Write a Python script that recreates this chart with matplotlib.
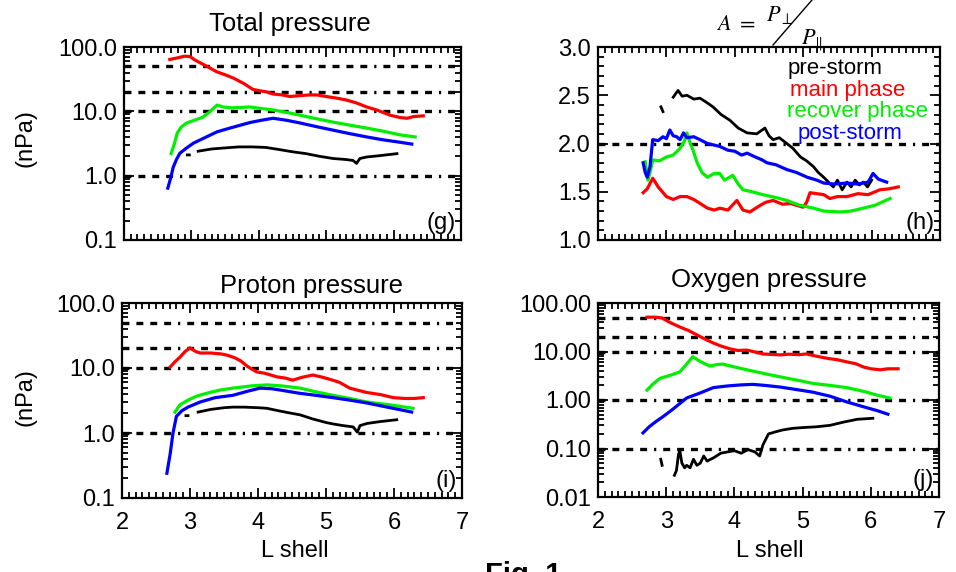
import numpy as np
import matplotlib
matplotlib.use("Agg")
import matplotlib.pyplot as plt
from matplotlib.ticker import MultipleLocator, LogLocator, FixedLocator, FixedFormatter, NullFormatter
from matplotlib.lines import Line2D

nan = np.nan

# ---------------- data ----------------
# (g) Total pressure (nPa)
g_pre_L  = [2.94, 2.97, nan, 3.1, 3.3, 3.5, 3.7, 3.9, 4.1, 4.3, 4.5, 4.7, 4.9, 5.1, 5.3, 5.4, 5.45, 5.5, 5.6, 5.8, 6.05]
g_pre    = [2.1, 2.1, nan, 2.4, 2.6, 2.7, 2.8, 2.8, 2.75, 2.55, 2.35, 2.2, 2.0, 1.85, 1.78, 1.72, 1.55, 1.85, 1.95, 2.05, 2.2]
g_main_L = [2.68, 2.8, 2.9, 2.98, 3.05, 3.2, 3.38, 3.5, 3.62, 3.78, 3.91, 4.0, 4.12, 4.21, 4.35, 4.46, 4.6, 4.75, 4.86, 5.0, 5.16, 5.3, 5.45, 5.6, 5.75, 5.95, 6.1, 6.2, 6.3, 6.44]
g_main   = [64, 68, 72, 71, 63, 52, 41, 37, 33, 27, 22, 21, 20, 18.6, 18, 17, 17.5, 18, 18, 17, 16, 15, 13.5, 11.7, 10.5, 8.7, 8.0, 7.8, 8.3, 8.5]
g_rec_L  = [2.70, 2.75, 2.79, 2.85, 2.93, 3.05, 3.17, 3.28, 3.38, 3.47, 3.6, 3.87, 4.0, 4.21, 4.4, 4.61, 4.85, 5.1, 5.35, 5.6, 5.85, 6.1, 6.32]
g_rec    = [2.2, 3.2, 4.6, 5.7, 6.6, 7.3, 8.1, 10.0, 12.5, 11.7, 11.3, 11.7, 11.2, 10.5, 9.7, 8.7, 7.7, 6.8, 6.1, 5.5, 4.9, 4.3, 4.0]
g_post_L = [2.65, 2.69, 2.73, 2.78, 2.83, 2.93, 3.03, 3.2, 3.38, 3.6, 3.87, 4.05, 4.21, 4.4, 4.61, 4.85, 5.1, 5.35, 5.6, 5.85, 6.1, 6.27]
g_post   = [0.64, 0.9, 1.35, 1.8, 2.24, 2.7, 3.2, 3.9, 4.8, 5.6, 6.7, 7.3, 7.8, 7.3, 6.6, 5.8, 5.1, 4.5, 4.0, 3.6, 3.3, 3.1]

# (h) anisotropy A = P_perp / P_par
h_pre_L  = [2.92, 2.95, nan, 3.1, 3.17, 3.23, 3.3, 3.4, 3.49, 3.6, 3.68, 3.8, 3.93, 4.05, 4.18, 4.32, 4.44, 4.5, 4.56, 4.65, 4.76, 4.85, 4.96, 5.05, 5.15, 5.22, 5.3, 5.37, 5.44, 5.5, 5.57, 5.64, 5.7, 5.76, 5.82, 5.88, 5.94, 6.0]
h_pre    = [2.38, 2.33, nan, 2.48, 2.55, 2.49, 2.50, 2.46, 2.47, 2.42, 2.38, 2.30, 2.24, 2.16, 2.11, 2.10, 2.16, 2.08, 2.04, 2.06, 2.0, 1.95, 1.86, 1.82, 1.76, 1.70, 1.65, 1.60, 1.55, 1.62, 1.52, 1.60, 1.55, 1.62, 1.57, 1.60, 1.55, 1.62]
h_main_L = [2.66, 2.72, 2.8, 2.88, 3.0, 3.1, 3.2, 3.3, 3.4, 3.49, 3.6, 3.7, 3.78, 3.9, 4.03, 4.12, 4.22, 4.35, 4.45, 4.56, 4.7, 4.81, 4.9, 5.0, 5.05, 5.1, 5.2, 5.3, 5.39, 5.5, 5.64, 5.8, 5.95, 6.12, 6.25, 6.39]
h_main   = [1.49, 1.53, 1.64, 1.55, 1.45, 1.42, 1.45, 1.45, 1.42, 1.38, 1.33, 1.31, 1.33, 1.31, 1.41, 1.31, 1.29, 1.35, 1.39, 1.41, 1.37, 1.38, 1.36, 1.34, 1.39, 1.49, 1.48, 1.47, 1.43, 1.45, 1.45, 1.48, 1.47, 1.52, 1.53, 1.55]
h_rec_L  = [2.69, 2.73, 2.76, 2.8, 2.9, 3.0, 3.1, 3.2, 3.26, 3.3, 3.35, 3.39, 3.45, 3.52, 3.6, 3.7, 3.78, 3.85, 3.97, 4.05, 4.12, 4.25, 4.41, 4.6, 4.76, 4.95, 5.15, 5.3, 5.54, 5.7, 5.88, 6.05, 6.27]
h_rec    = [1.81, 1.62, 1.70, 1.83, 1.82, 1.86, 1.88, 1.95, 2.02, 2.11, 2.0, 1.93, 1.80, 1.70, 1.65, 1.69, 1.69, 1.62, 1.67, 1.58, 1.52, 1.50, 1.47, 1.44, 1.41, 1.36, 1.33, 1.30, 1.29, 1.30, 1.33, 1.36, 1.43]
h_post_L = [2.66, 2.69, 2.72, 2.76, 2.8, 2.88, 2.95, 3.0, 3.05, 3.1, 3.15, 3.2, 3.25, 3.3, 3.4, 3.49, 3.6, 3.78, 3.9, 4.0, 4.1, 4.18, 4.3, 4.4, 4.47, 4.6, 4.76, 4.9, 5.06, 5.2, 5.3, 5.45, 5.64, 5.8, 5.95, 6.02, 6.1, 6.22]
h_post   = [1.80, 1.70, 1.65, 1.76, 2.04, 2.03, 2.07, 2.05, 2.14, 2.08, 2.07, 2.04, 2.11, 2.06, 2.07, 2.04, 2.0, 1.97, 1.93, 1.92, 1.88, 1.90, 1.86, 1.83, 1.80, 1.78, 1.73, 1.70, 1.65, 1.62, 1.59, 1.58, 1.59, 1.58, 1.60, 1.69, 1.63, 1.60]

# (i) Proton pressure (nPa)
i_pre_L  = [2.94, 2.97, nan, 3.12, 3.3, 3.5, 3.63, 3.8, 4.0, 4.13, 4.3, 4.45, 4.62, 4.8, 5.0, 5.1, 5.25, 5.4, 5.46, 5.5, 5.6, 5.8, 6.04]
i_pre    = [1.85, 1.85, nan, 2.1, 2.3, 2.45, 2.5, 2.5, 2.45, 2.4, 2.2, 2.05, 1.9, 1.65, 1.45, 1.38, 1.3, 1.24, 1.03, 1.3, 1.4, 1.5, 1.6]
i_main_L = [2.71, 2.78, 2.85, 2.93, 3.0, 3.08, 3.15, 3.3, 3.45, 3.54, 3.65, 3.74, 3.85, 3.98, 4.1, 4.28, 4.4, 4.51, 4.65, 4.81, 4.95, 5.1, 5.2, 5.35, 5.45, 5.6, 5.8, 5.99, 6.15, 6.3, 6.43]
i_main   = [10.4, 12.5, 14.6, 18, 20.4, 18, 17, 17, 16.5, 15.8, 14.5, 13, 10.5, 8.7, 8.3, 7.3, 7.0, 6.5, 7.2, 7.8, 7.2, 6.5, 6.0, 4.9, 4.6, 4.2, 3.9, 3.5, 3.4, 3.4, 3.5]
i_rec_L  = [2.78, 2.85, 2.97, 3.1, 3.25, 3.45, 3.63, 3.9, 4.13, 4.35, 4.62, 4.85, 5.1, 5.35, 5.6, 5.95, 6.28]
i_rec    = [2.1, 2.7, 3.2, 3.7, 4.1, 4.6, 4.9, 5.3, 5.5, 5.3, 4.9, 4.3, 3.8, 3.4, 3.0, 2.7, 2.4]
i_post_L = [2.66, 2.71, 2.75, 2.8, 2.88, 2.97, 3.15, 3.37, 3.63, 3.85, 4.03, 4.2, 4.37, 4.6, 4.85, 5.1, 5.35, 5.6, 5.9, 6.26]
i_post   = [0.24, 0.49, 1.0, 1.8, 2.2, 2.5, 3.0, 3.5, 3.8, 4.4, 4.9, 4.8, 4.5, 4.1, 3.8, 3.5, 3.2, 2.9, 2.5, 2.1]

# (j) Oxygen pressure (nPa)
j_pre_L  = [2.92, 2.94, nan, 3.12, 3.15, 3.18, 3.2, 3.23, 3.27, 3.3, 3.35, 3.4, 3.45, 3.5, 3.55, 3.6, 3.7, 3.8, 3.9, 4.0, 4.1, 4.2, 4.3, 4.37, 4.42, 4.5, 4.6, 4.7, 4.85, 5.0, 5.2, 5.4, 5.6, 5.8, 6.03]
j_pre    = [0.06, 0.045, nan, 0.028, 0.035, 0.075, 0.09, 0.05, 0.04, 0.045, 0.04, 0.06, 0.045, 0.05, 0.07, 0.055, 0.065, 0.08, 0.085, 0.09, 0.08, 0.095, 0.085, 0.07, 0.12, 0.2, 0.22, 0.24, 0.26, 0.27, 0.28, 0.3, 0.35, 0.4, 0.42]
j_main_L = [2.72, 2.85, 2.94, 3.05, 3.2, 3.33, 3.45, 3.57, 3.69, 3.8, 3.94, 4.05, 4.18, 4.3, 4.42, 4.55, 4.67, 4.8, 4.95, 5.06, 5.2, 5.3, 5.4, 5.5, 5.65, 5.78, 5.89, 6.0, 6.14, 6.25, 6.4]
j_main   = [51, 51, 49, 40, 32, 27, 22, 18, 15, 13, 11.3, 10.5, 10.7, 9.8, 8.9, 8.7, 8.5, 8.8, 8.6, 8.9, 8.0, 7.5, 7.1, 6.8, 6.1, 5.6, 4.8, 4.4, 4.2, 4.4, 4.4]
j_rec_L  = [2.72, 2.8, 2.91, 3.05, 3.2, 3.3, 3.39, 3.5, 3.64, 3.75, 3.83, 4.0, 4.18, 4.4, 4.67, 4.9, 5.15, 5.4, 5.65, 5.9, 6.1, 6.28]
j_rec    = [1.6, 2.1, 2.8, 3.2, 3.8, 5.5, 7.8, 6.2, 5.0, 5.4, 5.5, 4.8, 4.2, 3.6, 3.0, 2.6, 2.2, 2.0, 1.8, 1.5, 1.25, 1.1]
j_post_L = [2.66, 2.75, 2.85, 2.95, 3.1, 3.3, 3.5, 3.69, 3.9, 4.1, 4.27, 4.45, 4.67, 4.9, 5.15, 5.4, 5.65, 5.9, 6.1, 6.25]
j_post   = [0.21, 0.28, 0.36, 0.45, 0.65, 1.1, 1.4, 1.8, 1.95, 2.05, 2.1, 2.0, 1.85, 1.65, 1.45, 1.2, 0.91, 0.72, 0.6, 0.51]

# reference lines and tick labels
press_ref = [50, 20, 10, 1]
oxy_ref = [50, 20, 10, 1, 0.1]
aniso_ref = [2.0]
press_ticks = [0.1, 1, 10, 100]
press_labels = ["0.1", "1.0", "10.0", "100.0"]
oxy_ticks = [0.01, 0.1, 1, 10, 100]
oxy_labels = ["0.01", "0.10", "1.00", "10.00", "100.00"]
aniso_ticks = [1.0, 1.5, 2.0, 2.5, 3.0]
aniso_labels = ["1.0", "1.5", "2.0", "2.5", "3.0"]
x_ticks = [2, 3, 4, 5, 6, 7]
phase_names = ["pre-storm", "main phase", "recover phase", "post-storm"]
phase_colors = ["black", "#ff0000", "#00ee00", "#0000ff"]

# ---------------- style ----------------
plt.rcParams["font.family"] = ["Liberation Sans", "DejaVu Sans"]
plt.rcParams["mathtext.fontset"] = "stix"
plt.rcParams["lines.scale_dashes"] = False

W, H = 956, 572
fig = plt.figure(figsize=(W / 100, H / 100), dpi=100)


def rect(l, t, r, b):
    return [l / W, 1 - b / H, (r - l) / W, (b - t) / H]


TICKFS = 17
ref_dash = (0, (5, 5, 5, 5, 5, 5, 5, 5, 1.6, 5))


def style_axes(ax, logy, ylim, yticks, ylabels, show_x):
    ax.set_xlim(2, 7)
    ax.set_ylim(*ylim)
    if logy:
        ax.set_yscale("log")
        ax.yaxis.set_minor_locator(LogLocator(base=10, subs=np.arange(2, 10)))
        ax.yaxis.set_minor_formatter(NullFormatter())
    else:
        ax.yaxis.set_minor_locator(MultipleLocator(0.1))
    ax.yaxis.set_major_locator(FixedLocator(yticks))
    ax.yaxis.set_major_formatter(FixedFormatter(ylabels))
    ax.xaxis.set_major_locator(FixedLocator(x_ticks))
    ax.xaxis.set_minor_locator(MultipleLocator(0.1))
    ax.tick_params(which="both", direction="in", top=True, right=True, width=1.3)
    ax.tick_params(which="major", length=7)
    ax.tick_params(which="minor", length=4)
    ax.tick_params(axis="y", labelsize=TICKFS, pad=5)
    ax.tick_params(axis="x", labelsize=TICKFS, pad=10, labelbottom=show_x)
    for s in ax.spines.values():
        s.set_linewidth(1.6)


def draw(ax, series, refs):
    for y in refs:
        ax.axhline(y, color="black", lw=2.4, linestyle=ref_dash, zorder=1)
    for (L, v), c in zip(series, phase_colors):
        ax.plot(L, v, color=c, lw=2.0 if c == "black" else 2.3, zorder=3)


ax_g = fig.add_axes(rect(124, 47, 461, 240))
ax_h = fig.add_axes(rect(598, 47, 940, 240))
ax_i = fig.add_axes(rect(122, 303, 462, 498))
ax_j = fig.add_axes(rect(598, 303, 939, 497))

draw(ax_g, [(g_pre_L, g_pre), (g_main_L, g_main), (g_rec_L, g_rec), (g_post_L, g_post)], press_ref)
draw(ax_h, [(h_pre_L, h_pre), (h_main_L, h_main), (h_rec_L, h_rec), (h_post_L, h_post)], aniso_ref)
draw(ax_i, [(i_pre_L, i_pre), (i_main_L, i_main), (i_rec_L, i_rec), (i_post_L, i_post)], press_ref)
draw(ax_j, [(j_pre_L, j_pre), (j_main_L, j_main), (j_rec_L, j_rec), (j_post_L, j_post)], oxy_ref)

style_axes(ax_g, True, (0.1, 100), press_ticks, press_labels, False)
style_axes(ax_h, False, (1.0, 3.0), aniso_ticks, aniso_labels, False)
style_axes(ax_i, True, (0.1, 100), press_ticks, press_labels, True)
style_axes(ax_j, True, (0.01, 100), oxy_ticks, oxy_labels, True)

# panel letters
for ax, lab in [(ax_g, "(g)"), (ax_h, "(h)"), (ax_i, "(i)"), (ax_j, "(j)")]:
    ax.text(0.985, 0.03, lab, transform=ax.transAxes, ha="right", va="bottom", fontsize=TICKFS)


def ftext(x, y, s, **kw):
    return fig.text(x / W, 1 - y / H, s, **kw)


# titles
ftext(290, 31, "Total pressure", ha="center", va="baseline", fontsize=18.5)
ftext(311, 293, "Proton pressure", ha="center", va="baseline", fontsize=18.5)
ftext(769, 287, "Oxygen pressure", ha="center", va="baseline", fontsize=18.5)

# y labels
ftext(25, 138, "(nPa)", rotation=90, ha="center", va="center", fontsize=TICKFS)
ftext(25, 397, "(nPa)", rotation=90, ha="center", va="center", fontsize=TICKFS)

# x labels
ftext(295, 557, "L shell", ha="center", va="baseline", fontsize=TICKFS)
ftext(770, 557, "L shell", ha="center", va="baseline", fontsize=TICKFS)

# legend in (h)
leg_pos = [(788, 74), (790, 96), (787, 117), (798, 139)]
for (x, y), name, c in zip(leg_pos, phase_names, phase_colors):
    ftext(x, y, name, color=c, ha="left", va="baseline", fontsize=16)

# anisotropy formula
ftext(716, 30, r"$A\ =$", ha="left", va="baseline", fontsize=16)
ftext(766, 21, r"$P_{\perp}$", ha="left", va="baseline", fontsize=16)
ftext(801, 46, r"$P_{\Vert}$", ha="left", va="baseline", fontsize=16)
fig.add_artist(Line2D([773 / W, 812 / W], [1 - 45 / H, 1 - 0 / H], color="black", lw=1.0,
                      transform=fig.transFigure))

# figure caption (cut off at bottom, as in the original)
ftext(523, 561, "Fig. 1", ha="center", va="top", fontsize=21, fontweight="bold")

fig.savefig("out.png", dpi=100)
